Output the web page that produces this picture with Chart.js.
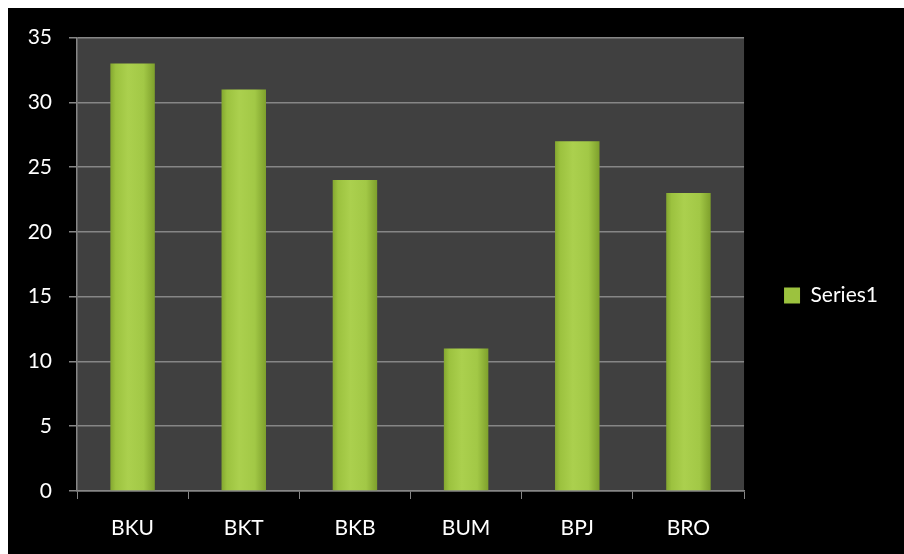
<!DOCTYPE html>
<html lang="en">
<head>
<meta charset="UTF-8">
<title>Series1 bar chart</title>
<script src="https://cdn.jsdelivr.net/npm/chart.js"></script>
<style>
    body {
        margin: 0;
        background: #ffffff;
    }
    #wrap {
        position: absolute;
        left: 8px;
        top: 8px;
        width: 896px;
        height: 546px;
        background: #000000;
    }
</style>
</head>
<body>
<div id="wrap">
    <canvas id="myBarChart" width="896" height="546"></canvas>
</div>
<script>
    // chart data
    var categories = ["BKU", "BKT", "BKB", "BUM", "BPJ", "BRO"];
    var series1 = [33, 31, 24, 11, 27, 23];
    var yTicks = [0, 5, 10, 15, 20, 25, 30, 35];

    // dark grey plot area behind the bars
    var plotBg = {
        id: 'plotBg',
        beforeDraw: function (chart) {
            var a = chart.chartArea;
            var ctx = chart.ctx;
            ctx.save();
            ctx.fillStyle = '#404040';
            ctx.fillRect(a.left, a.top, a.right - a.left, a.bottom - a.top);
            ctx.restore();
        }
    };

    // green bar with a lighter middle, like the glossy Excel bars
    function barFill(context) {
        var chart = context.chart;
        var xs = chart.scales.x;
        if (!xs || context.dataIndex === undefined) return '#9cc23e';
        var cx = xs.getPixelForValue(context.dataIndex);
        var w = (xs.width / categories.length) * 0.4;
        var g = chart.ctx.createLinearGradient(cx - w / 2, 0, cx + w / 2, 0);
        g.addColorStop(0, '#84a730');
        g.addColorStop(0.12, '#9cc23f');
        g.addColorStop(0.4, '#abd04e');
        g.addColorStop(0.75, '#a2c846');
        g.addColorStop(1, '#7e a02c'.replace(' ', ''));
        return g;
    }

    var ctx = document.getElementById('myBarChart').getContext('2d');

    new Chart(ctx, {
        type: 'bar',
        data: {
            labels: categories,
            datasets: [{
                label: 'Series1',
                data: series1,
                backgroundColor: barFill,
                borderWidth: 0,
                barPercentage: 0.4,
                categoryPercentage: 1.0
            }]
        },
        options: {
            responsive: false,
            animation: false,
            layout: {
                padding: { top: 29, right: 16, left: 0, bottom: 0 }
            },
            plugins: {
                tooltip: { enabled: false },
                legend: {
                    position: 'right',
                    labels: {
                        color: '#ffffff',
                        font: { family: 'Lato', size: 21 },
                        boxWidth: 16,
                        boxHeight: 16,
                        padding: 40,
                        generateLabels: function () {
                            return [{
                                text: 'Series1',
                                fillStyle: '#9cc23e',
                                strokeStyle: '#9cc23e',
                                lineWidth: 0,
                                fontColor: '#ffffff',
                                datasetIndex: 0
                            }];
                        }
                    }
                }
            },
            scales: {
                x: {
                    afterFit: function (scale) { scale.height = 63; },
                    grid: {
                        display: true,
                        drawOnChartArea: false,
                        drawTicks: true,
                        tickLength: 8,
                        color: '#868686',
                        offset: true
                    },
                    border: { color: '#868686', width: 1.5 },
                    ticks: {
                        color: '#ffffff',
                        font: { family: 'Lato', size: 21 },
                        padding: 17
                    }
                },
                y: {
                    min: 0,
                    max: 35,
                    afterFit: function (scale) { scale.width = 69; },
                    afterBuildTicks: function (scale) {
                        scale.ticks = yTicks.map(function (v) { return { value: v }; });
                    },
                    grid: {
                        color: '#868686',
                        lineWidth: 1.5,
                        tickLength: 8
                    },
                    border: { color: '#868686', width: 1.5 },
                    ticks: {
                        color: '#ffffff',
                        font: { family: 'Lato', size: 21 },
                        padding: 17
                    }
                }
            }
        },
        plugins: [plotBg]
    });
</script>
</body>
</html>
